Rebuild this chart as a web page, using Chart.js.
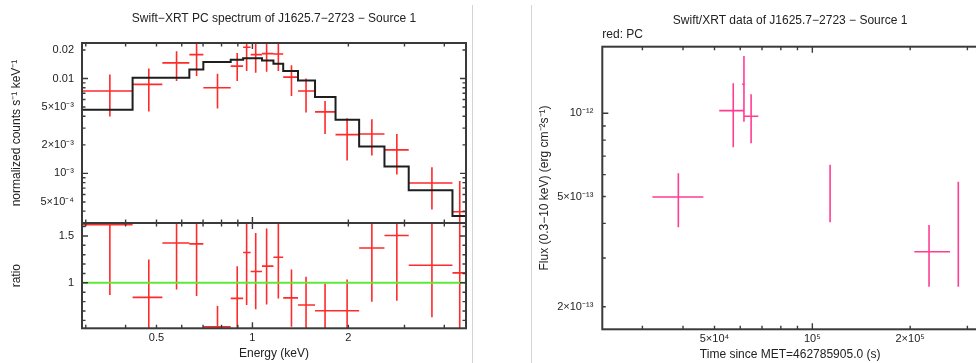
<!DOCTYPE html>
<html><head><meta charset="utf-8">
<script src="https://cdn.jsdelivr.net/npm/chart.js@4.4.1/dist/chart.umd.min.js"></script>
<style>
html,body{margin:0;padding:0;background:#fff;overflow:hidden;width:976px;height:363px;position:relative;}
canvas{position:absolute;}
.sep{position:absolute;top:5px;width:1px;height:358px;background:#d4d4d4;}
</style></head><body>
<div class="sep" style="left:472px"></div>
<div class="sep" style="left:531px"></div>
<canvas id="spec" width="480" height="224" style="left:0;top:0"></canvas>
<canvas id="ratio" width="480" height="150" style="left:0;top:213px"></canvas>
<canvas id="lc" width="500" height="363" style="left:480px;top:0"></canvas>
<script>
// ---------------- data: spectrum (keV bins) ----------------
const eLo  = [0.292, 0.4207, 0.5216, 0.634, 0.7014, 0.8548, 0.935, 0.987, 1.0716, 1.164, 1.249, 1.390, 1.572, 1.823, 2.162, 2.596, 3.093, 4.243];
const eHi  = [0.4207, 0.5216, 0.634, 0.7014, 0.8548, 0.935, 0.987, 1.0716, 1.164, 1.249, 1.390, 1.572, 1.823, 2.162, 2.596, 3.093, 4.243, 4.70];
const eMid = [0.357, 0.473, 0.578, 0.668, 0.777, 0.896, 0.959, 1.024, 1.108, 1.206, 1.326, 1.473, 1.690, 1.982, 2.370, 2.839, 3.658, 4.472];
const specVal = [7.39e-3, 8.67e-3, 1.462e-2, 1.786e-2, 8.0e-3, 1.35e-2, 2.134e-2, 1.786e-2, 1.83e-2, 1.815e-2, 1.035e-2, 7.39e-3, 4.45e-3, 2.56e-3, 2.6e-3, 1.77e-3, 7.91e-4, 3.94e-4];
const specLo  = [3.98e-3, 4.49e-3, 9.4e-3, 1.06e-2, 4.83e-3, 9.4e-3, 1.197e-2, 1.15e-2, 1.18e-2, 1.197e-2, 6.55e-3, 4.38e-3, 2.6e-3, 1.37e-3, 1.54e-3, 9.76e-4, 4.16e-4, 1.5e-4];
const specHi  = [1.103e-2, 1.274e-2, 1.94e-2, 2.6e-2, 1.12e-2, 1.86e-2, 3.0e-2, 2.6e-2, 2.6e-2, 2.6e-2, 1.383e-2, 1.0e-2, 5.81e-3, 3.82e-3, 3.73e-3, 2.6e-3, 1.16e-3, 8.3e-4];
const modelVal = [4.68e-3, 1.02e-2, 1.02e-2, 1.245e-2, 1.497e-2, 1.58e-2, 1.63e-2, 1.63e-2, 1.545e-2, 1.43e-2, 1.197e-2, 9.54e-3, 6.4e-3, 3.67e-3, 1.92e-3, 1.18e-3, 6.64e-4, 3.55e-4];
const ratioVal = [1.62, 0.845, 1.425, 1.415, 0.53, 0.834, 1.323, 1.121, 1.178, 1.273, 0.84, 0.763, 0.702, 0.702, 1.372, 1.504, 1.188, 1.106];
const ratioLo  = [0.87, 0.44, 0.93, 0.86, 0.32, 0.50, 0.763, 0.717, 0.77, 0.834, 0.532, 0.46, 0.41, 0.37, 0.798, 0.809, 0.632, 0.42];
const ratioHi  = [2.36, 1.25, 1.9, 2.0, 0.752, 1.177, 1.85, 1.532, 1.579, 1.82, 1.142, 1.064, 0.993, 1.036, 1.99, 2.2, 1.75, 2.34];
const unityRatio = 1;

// ---------------- data: light curve ----------------
const tMid = [3.87e4, 5.71e4, 6.16e4, 6.48e4, 1.134e5, 2.286e5, 2.813e5];
const tLo  = [3.22e4, 5.17e4, 6.08e4, 6.18e4, 1.13e5, 2.06e5, 2.80e5];
const tHi  = [4.62e4, 6.18e4, 6.20e4, 6.82e4, 1.139e5, 2.653e5, 2.826e5];
const flux   = [4.98e-13, 1.022e-12, 1.273e-12, 9.75e-13, 5.25e-13, 3.16e-13, 3.79e-13];
const fluxLo = [3.87e-13, 7.54e-13, 9.32e-13, 7.79e-13, 4.04e-13, 2.36e-13, 2.36e-13];
const fluxHi = [6.07e-13, 1.283e-12, 1.61e-12, 1.171e-12, 6.51e-13, 3.95e-13, 5.66e-13];

// ---------------- axes / ticks ----------------
const energyRange = [0.2919, 4.679];
const specRange = [3.114e-4, 0.02367];
const ratioRange = [0.515, 1.638];
const timeRange = [2.258e4, 3.234e5];
const fluxRange = [1.657e-13, 1.740e-12];

const energyTicks = [0.5, 1, 2];           const energyLabels = ['0.5', '1', '2'];
const energyMajor = [1];                   const energyMinor = [0.3, 0.4, 0.5, 0.6, 0.7, 0.8, 0.9, 2, 3, 4];
const specTicks = [5e-4, 1e-3, 2e-3, 5e-3, 0.01, 0.02];
const specLabels = ['5×10⁻⁴', '10⁻³', '2×10⁻³', '5×10⁻³', '0.01', '0.02'];
const specMajor = [1e-3, 1e-2];
const specMinor = [4e-4, 5e-4, 6e-4, 7e-4, 8e-4, 9e-4, 2e-3, 3e-3, 4e-3, 5e-3, 6e-3, 7e-3, 8e-3, 9e-3, 2e-2];
const ratioTicks = [1, 1.5];               const ratioLabels = ['1', '1.5'];
const ratioMajor = [1, 1.5];               const ratioMinor = [0.6, 0.7, 0.8, 0.9, 1.1, 1.2, 1.3, 1.4, 1.6];
const timeTicks = [5e4, 1e5, 2e5];         const timeLabels = ['5×10⁴', '10⁵', '2×10⁵'];
const timeMajor = [1e5];                   const timeMinor = [3e4, 4e4, 5e4, 6e4, 7e4, 8e4, 9e4, 2e5, 3e5];
const fluxTicks = [2e-13, 5e-13, 1e-12];   const fluxLabels = ['2×10⁻¹³', '5×10⁻¹³', '10⁻¹²'];
const fluxMajor = [1e-12];                 const fluxMinor = [2e-13, 3e-13, 4e-13, 5e-13, 6e-13, 7e-13, 8e-13, 9e-13];

// ---------------- helpers ----------------
const FONT = "'Liberation Sans', Arial, Helvetica, sans-serif";
const TXT = '#222';
const RED = '#ff2a2a';
const PINK = '#ff3d93';
Chart.defaults.font.family = FONT;

function crossPts(xc, xl, xh, yc, yl, yh) {
  const pts = [];
  for (let i = 0; i < xc.length; i++) {
    pts.push({x: xl[i], y: yc[i]}, {x: xh[i], y: yc[i]}, {x: xc[i], y: null});
    pts.push({x: xc[i], y: yl[i]}, {x: xc[i], y: yh[i]}, {x: xc[i], y: null});
  }
  return pts;
}
function stepPts(lo, hi, v) {
  const pts = [];
  for (let i = 0; i < v.length; i++) pts.push({x: lo[i], y: v[i]}, {x: hi[i], y: v[i]});
  return pts;
}
function fixedY(w) { return s => { s.width = w; s.paddingTop = 0; s.paddingBottom = 0; }; }
function fixedX(h) { return s => { s.height = h; s.paddingLeft = 0; s.paddingRight = 0; }; }
function setTicks(vals) { return s => { s.ticks = vals.map(v => ({value: v})); }; }
function labeler(vals, labels) {
  return v => { const i = vals.findIndex(t => Math.abs(t - v) <= Math.abs(t) * 1e-6); return i >= 0 ? labels[i] : ''; };
}

const frameTicks = {
  id: 'frameTicks',
  afterDatasetsDraw(chart, args, o) {
    const {ctx, chartArea: a} = chart;
    const xs = chart.scales.x, ys = chart.scales.y;
    ctx.save();
    ctx.strokeStyle = '#3a3a3a';
    ctx.lineWidth = 1.4;
    ctx.beginPath();
    const X = (vals, len) => (vals || []).forEach(v => {
      const p = xs.getPixelForValue(v);
      if (!(p > a.left + 1 && p < a.right - 1)) return;
      ctx.moveTo(p, a.bottom); ctx.lineTo(p, a.bottom - len);
      ctx.moveTo(p, a.top); ctx.lineTo(p, a.top + len);
    });
    const Y = (vals, len) => (vals || []).forEach(v => {
      const p = ys.getPixelForValue(v);
      if (!(p > a.top + 1 && p < a.bottom - 1)) return;
      ctx.moveTo(a.left, p); ctx.lineTo(a.left + len, p);
      if (o.right !== false) { ctx.moveTo(a.right, p); ctx.lineTo(a.right - len, p); }
    });
    X(o.xMajor, 6); X(o.xMinor, 3.5); Y(o.yMajor, 6); Y(o.yMinor, 3.5);
    ctx.stroke();
    ctx.lineWidth = 2;
    ctx.strokeRect(a.left, a.top, a.right - a.left, a.bottom - a.top);
    ctx.restore();
  }
};

const base = {
  responsive: false, animation: false, devicePixelRatio: 1, events: [],
};
const tickFont = {family: FONT, size: 11};
const titleFont = {family: FONT, size: 12};

// ---------------- spectrum (top-left) ----------------
new Chart(document.getElementById('spec'), {
  type: 'line',
  data: {datasets: [
    {data: stepPts(eLo, eHi, modelVal), borderColor: '#1e1e1e', borderWidth: 2, pointRadius: 0, spanGaps: false},
    {data: crossPts(eMid, eLo, eHi, specVal, specLo, specHi), borderColor: RED, borderWidth: 1.6, pointRadius: 0, spanGaps: false},
  ]},
  options: Object.assign({}, base, {
    layout: {padding: {left: 0, right: 14, top: 0, bottom: 1}},
    plugins: {
      legend: {display: false}, tooltip: {enabled: false},
      title: {display: true, text: 'Swift−XRT PC spectrum of J1625.7−2723 − Source 1', fullSize: false, color: TXT,
              font: {family: FONT, size: 12, weight: 'normal', lineHeight: 1}, padding: {top: 13, bottom: 18}},
      frameTicks: {xMajor: energyMajor, xMinor: energyMinor, yMajor: specMajor, yMinor: specMinor}
    },
    scales: {
      x: {type: 'logarithmic', min: energyRange[0], max: energyRange[1], display: false},
      y: {type: 'logarithmic', min: specRange[0], max: specRange[1],
          afterFit: fixedY(82), afterBuildTicks: setTicks(specTicks),
          grid: {display: false, drawTicks: false}, border: {display: false},
          ticks: {callback: labeler(specTicks, specLabels), font: tickFont, color: TXT, padding: 8, autoSkip: false},
          title: {display: true, text: 'normalized counts s⁻¹ keV⁻¹', font: titleFont, color: TXT, padding: {top: 9.5, bottom: 0}}}
    }
  }),
  plugins: [frameTicks]
});

// ---------------- ratio (bottom-left) ----------------
new Chart(document.getElementById('ratio'), {
  type: 'line',
  data: {datasets: [
    {data: [{x: energyRange[0], y: unityRatio}, {x: energyRange[1], y: unityRatio}], borderColor: '#5ee83a', borderWidth: 2, pointRadius: 0},
    {data: crossPts(eMid, eLo, eHi, ratioVal, ratioLo, ratioHi), borderColor: RED, borderWidth: 1.6, pointRadius: 0, spanGaps: false},
  ]},
  options: Object.assign({}, base, {
    layout: {padding: {left: 0, right: 14, top: 10, bottom: 0}},
    plugins: {
      legend: {display: false}, tooltip: {enabled: false},
      frameTicks: {xMajor: energyMajor, xMinor: energyMinor, yMajor: ratioMajor, yMinor: ratioMinor}
    },
    scales: {
      x: {type: 'logarithmic', min: energyRange[0], max: energyRange[1], position: 'bottom',
          afterFit: fixedX(34.7), afterBuildTicks: setTicks(energyTicks),
          grid: {display: false, drawTicks: false}, border: {display: false},
          ticks: {callback: labeler(energyTicks, energyLabels), font: tickFont, color: TXT, padding: 3.4, autoSkip: false, maxRotation: 0},
          title: {display: true, text: 'Energy (keV)', font: titleFont, color: TXT, padding: {top: 0, bottom: 1.8}}},
      y: {type: 'linear', min: ratioRange[0], max: ratioRange[1],
          afterFit: fixedY(82), afterBuildTicks: setTicks(ratioTicks),
          grid: {display: false, drawTicks: false}, border: {display: false},
          ticks: {callback: labeler(ratioTicks, ratioLabels), font: tickFont, color: TXT, padding: 8, autoSkip: false},
          title: {display: true, text: 'ratio', font: titleFont, color: TXT, padding: {top: 9.5, bottom: 0}}}
    }
  }),
  plugins: [frameTicks]
});

// ---------------- light curve (right) ----------------
new Chart(document.getElementById('lc'), {
  type: 'line',
  data: {datasets: [
    {data: crossPts(tMid, tLo, tHi, flux, fluxLo, fluxHi), borderColor: PINK, borderWidth: 1.6, pointRadius: 0, spanGaps: false},
  ]},
  options: Object.assign({}, base, {
    layout: {padding: {left: 0, right: 2, top: 0, bottom: 0}},
    plugins: {
      legend: {display: false}, tooltip: {enabled: false},
      title: {display: true, text: 'Swift/XRT data of J1625.7−2723 − Source 1', fullSize: false, color: TXT,
              font: {family: FONT, size: 12, weight: 'normal', lineHeight: 1}, padding: {top: 14.7, bottom: 0}},
      subtitle: {display: true, text: 'red: PC', fullSize: false, align: 'start', color: TXT,
              font: {family: FONT, size: 12, weight: 'normal', lineHeight: 1}, padding: {top: 1.6, bottom: 6.4}},
      frameTicks: {xMajor: timeMajor, xMinor: timeMinor, yMajor: fluxMajor, yMinor: fluxMinor, right: false}
    },
    scales: {
      x: {type: 'logarithmic', min: timeRange[0], max: timeRange[1], position: 'bottom',
          afterFit: fixedX(33.7), afterBuildTicks: setTicks(timeTicks),
          grid: {display: false, drawTicks: false}, border: {display: false},
          ticks: {callback: labeler(timeTicks, timeLabels), font: tickFont, color: TXT, padding: 3.4, autoSkip: false, maxRotation: 0},
          title: {display: true, text: 'Time since MET=462785905.0 (s)', font: titleFont, color: TXT, padding: {top: 0, bottom: 1.5}}},
      y: {type: 'logarithmic', min: fluxRange[0], max: fluxRange[1],
          afterFit: fixedY(122.3), afterBuildTicks: setTicks(fluxTicks),
          grid: {display: false, drawTicks: false}, border: {display: false},
          ticks: {callback: labeler(fluxTicks, fluxLabels), font: tickFont, color: TXT, padding: 9, autoSkip: false},
          title: {display: true, text: 'Flux (0.3−10 keV) (erg cm⁻²s⁻¹)', font: titleFont, color: TXT, padding: {top: 57.8, bottom: 0}}}
    }
  }),
  plugins: [frameTicks]
});
</script>
</body></html>
